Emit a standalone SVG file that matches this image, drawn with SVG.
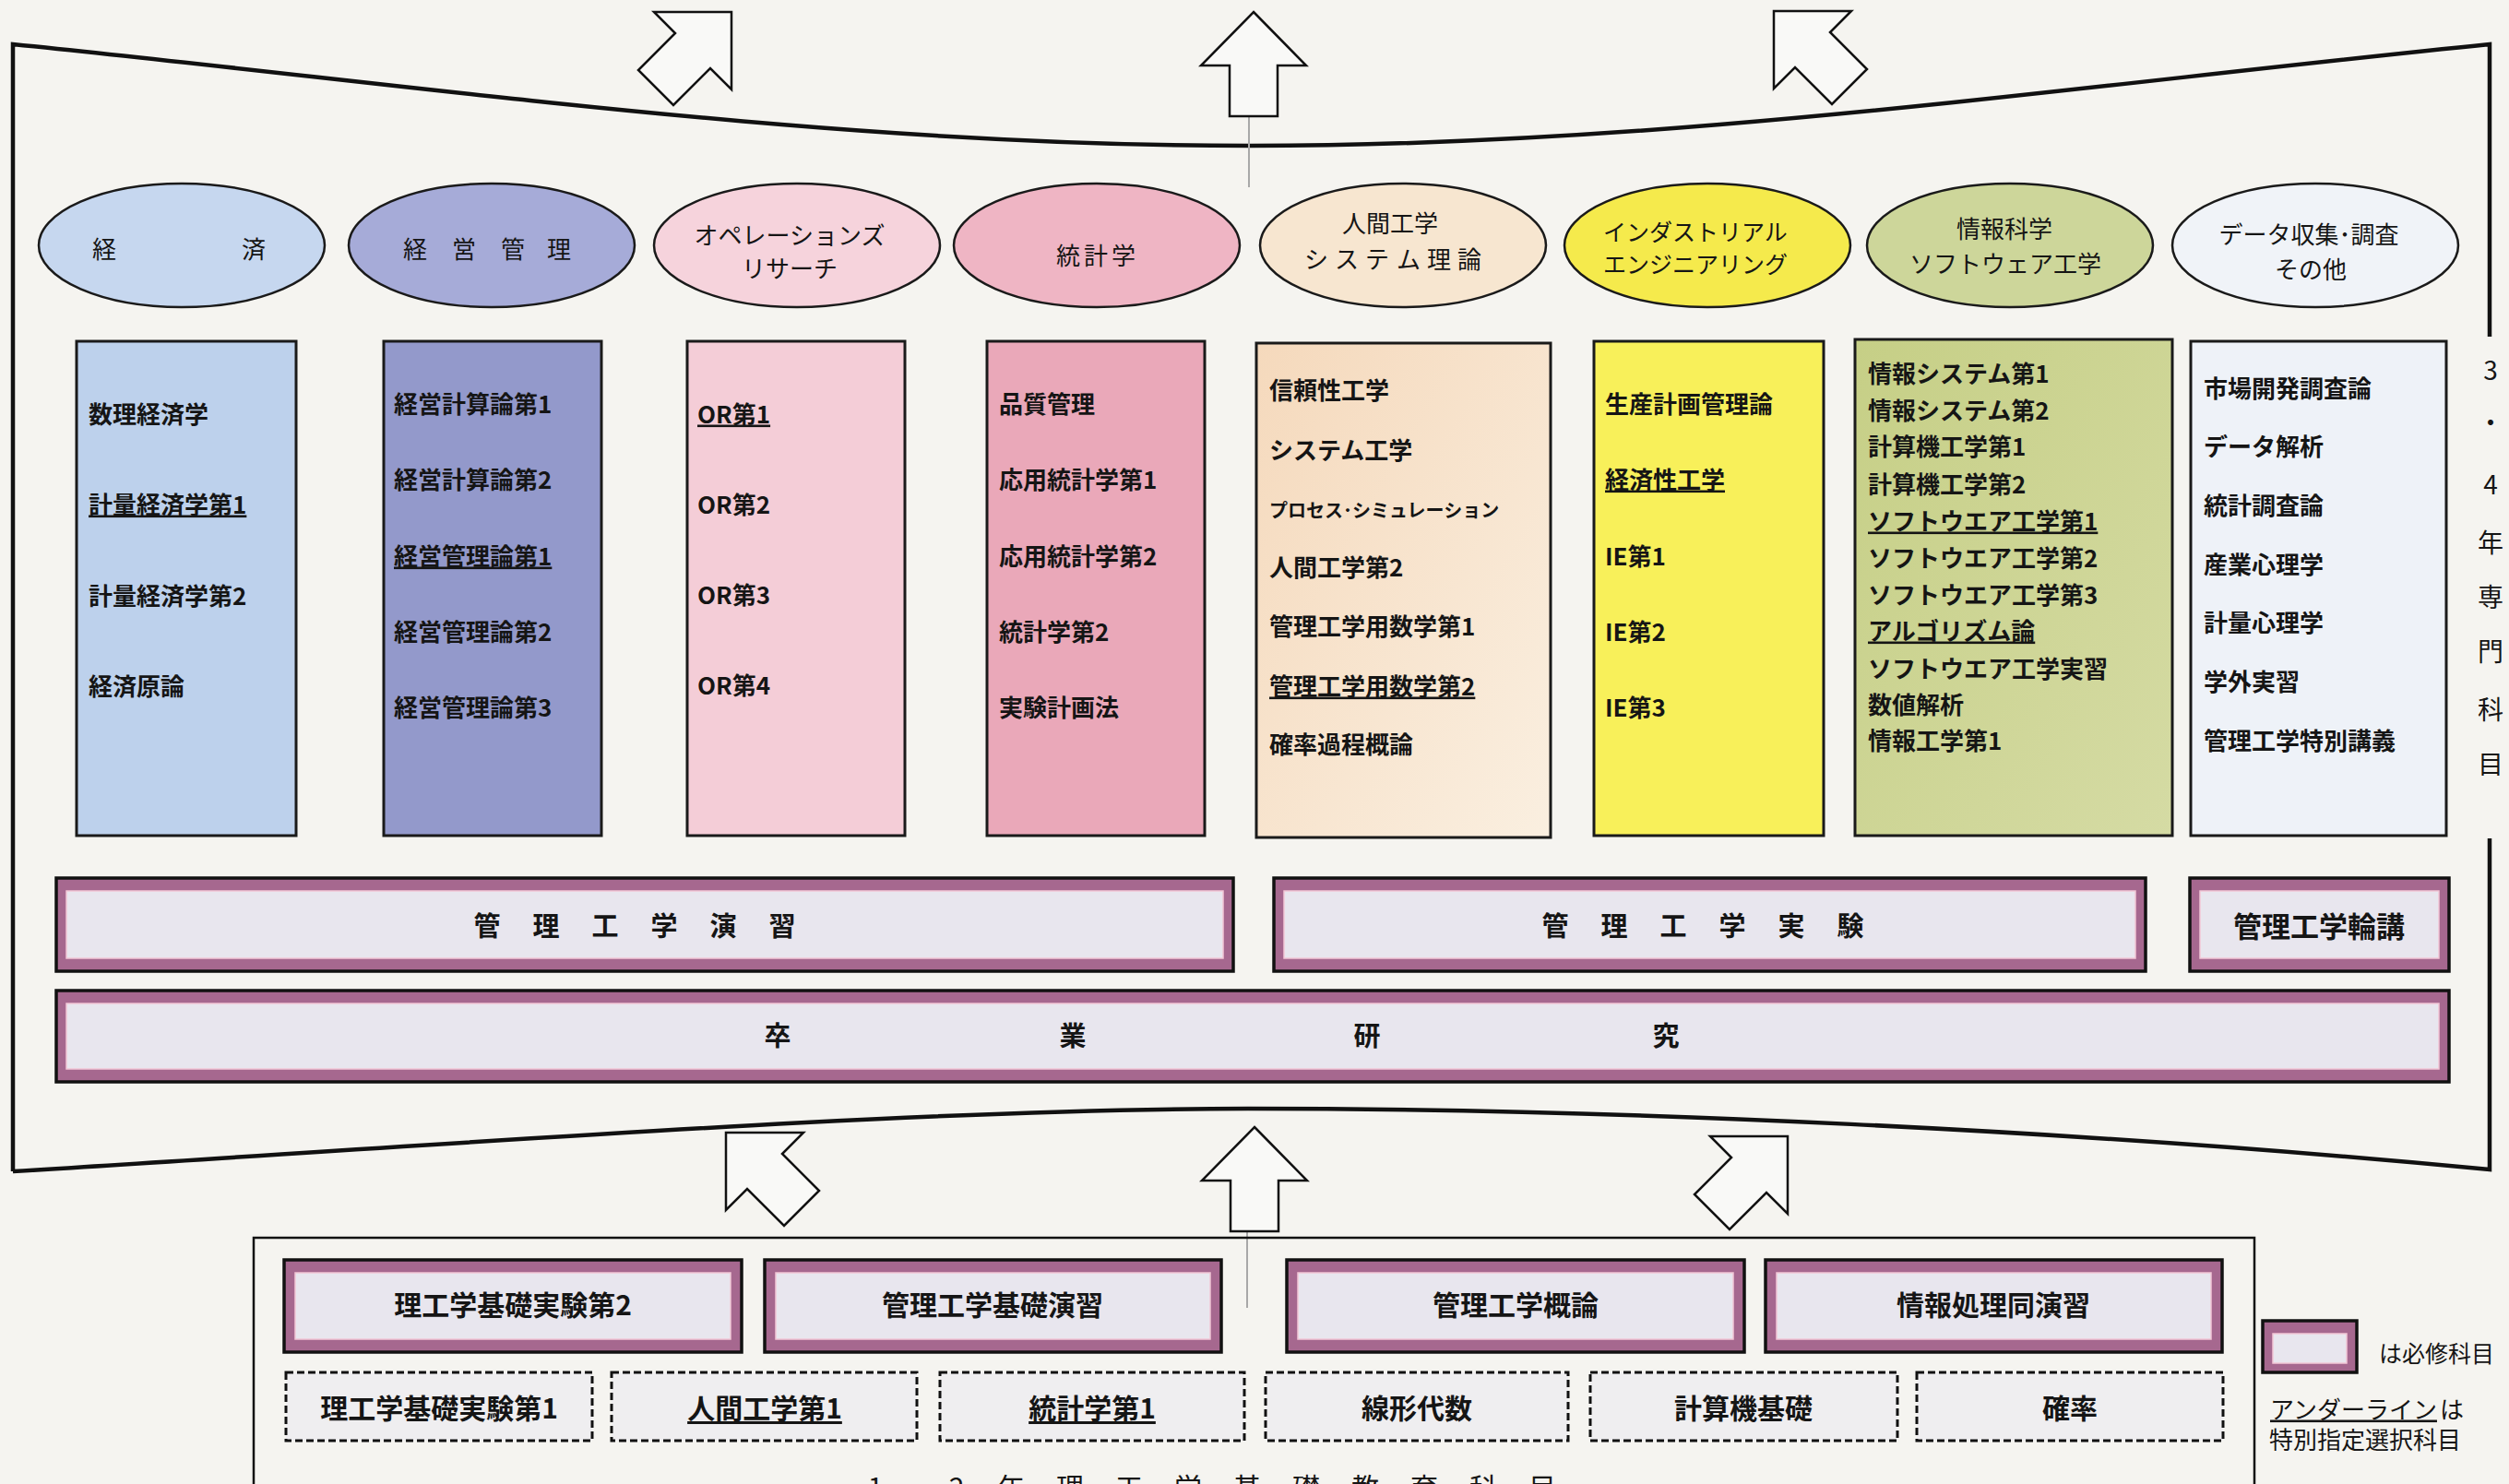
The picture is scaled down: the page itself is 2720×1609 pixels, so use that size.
<svg xmlns="http://www.w3.org/2000/svg" xmlns:xlink="http://www.w3.org/1999/xlink" width="2720" height="1609" viewBox="0 0 2720 1609">
<defs>
<style>
.t{font-family:"Noto Sans CJK JP","Noto Sans",sans-serif;fill:#151515}
.lab{font-size:26px;font-weight:400;text-anchor:middle;dominant-baseline:central}
.it{font-size:26px;font-weight:700;dominant-baseline:central}
.bt{font-size:29px;font-weight:700;text-anchor:middle;dominant-baseline:central}
.u{text-decoration:underline}
.ell{stroke:#1a1a1a;stroke-width:2.5}
.box{stroke:#1a1a1a;stroke-width:3}
.frame{fill:none;stroke:#111;stroke-width:4.5}
.barO{fill:#a6688f;stroke:#111;stroke-width:3.5}
.barI{fill:#e8e6ee;stroke:#f2c6d6;stroke-width:1.5}
.dash{fill:#efeef0;stroke:#111;stroke-width:3;stroke-dasharray:8 4}
.arrow{fill:#f9f9f7;stroke:#111;stroke-width:2.5;stroke-linejoin:miter}
.gut{stroke:#a8a8a8;stroke-width:2}
</style>
<linearGradient id="g5" x1="0" y1="0" x2="1" y2="1"><stop offset="0" stop-color="#f5d9bc"/><stop offset="1" stop-color="#faefe0"/></linearGradient>
<linearGradient id="g7" x1="0" y1="0" x2="1" y2="1"><stop offset="0" stop-color="#c6cf86"/><stop offset="1" stop-color="#d5dba4"/></linearGradient>
<polygon id="aNE" points="0,0 0,84 -23,61 -63,101 -101,63 -61,23 -84,0"/>
<polygon id="aNW" points="0,0 84,0 61,23 101,63 63,101 23,61 0,84"/>
<polygon id="aUp" points="0,0 57,58 26,58 26,113 -26,113 -26,58 -57,58"/>
</defs>
<rect width="2720" height="1609" fill="#f5f4f0"/>

<g id="frame">
<path class="frame" d="M14,1270 L14,48 C480,95 900,158 1356,158 C1812,158 2232,95 2699,48 L2699,365 M2699,909 L2699,1268 C2250,1225 1750,1202 1353,1202 C1000,1202 500,1240 14,1270"/>
<line class="gut" x1="1354" y1="107" x2="1354" y2="203"/>
<line class="gut" x1="1352" y1="1322" x2="1352" y2="1418"/>
<text class="t lab" x="2700 2700 2700 2700 2700 2700 2700 2700" y="400 457 524 587 646 705 768 827" style="font-size:28px">3・4年専門科目</text>
</g>

<g id="connectors">
<use class="arrow" xlink:href="#aNE" transform="translate(793,13)"/>
<use class="arrow" xlink:href="#aUp" transform="translate(1359,13)"/>
<use class="arrow" xlink:href="#aNW" transform="translate(1923,12)"/>
<use class="arrow" xlink:href="#aNW" transform="translate(787,1228)"/>
<use class="arrow" xlink:href="#aUp" transform="translate(1360,1222)"/>
<use class="arrow" xlink:href="#aNE" transform="translate(1938,1232)"/>
</g>

<g id="cat-keizai"><ellipse class="ell" cx="197" cy="266" rx="155" ry="67" fill="#c6d7ef"/><text class="t lab" x="113 275" y="268">経済</text></g>
<g id="cat-keiei"><ellipse class="ell" cx="533" cy="266" rx="155" ry="67" fill="#a6abd8"/><text class="t lab" x="450 503 556 606" y="268">経営管理</text></g>
<g id="cat-or"><ellipse class="ell" cx="864" cy="266" rx="155" ry="67" fill="#f6d3dc"/><text class="t lab" x="856" y="253">オペレーションズ</text><text class="t lab" x="856" y="289">リサーチ</text></g>
<g id="cat-toukei"><ellipse class="ell" cx="1189" cy="266" rx="155" ry="67" fill="#efb5c4"/><text class="t lab" x="1158 1188 1218" y="275">統計学</text></g>
<g id="cat-ningen"><ellipse class="ell" cx="1521" cy="266" rx="155" ry="67" fill="#f7e6d0"/><text class="t lab" x="1507" y="240">人間工学</text><text class="t lab" x="1427 1460 1493 1527 1560 1593" y="279">システム理論</text></g>
<g id="cat-ie"><ellipse class="ell" cx="1851" cy="266" rx="155" ry="67" fill="#f5ea4c"/><text class="t lab" x="1838" y="250" style="font-size:25px">インダストリアル</text><text class="t lab" x="1838" y="285" style="font-size:25px">エンジニアリング</text></g>
<g id="cat-joho"><ellipse class="ell" cx="2179" cy="266" rx="155" ry="67" fill="#cdd69a"/><text class="t lab" x="2173" y="246">情報科学</text><text class="t lab" x="2174" y="284">ソフトウェア工学</text></g>
<g id="cat-data"><ellipse class="ell" cx="2510" cy="266" rx="155" ry="67" fill="#f0f3f8"/><text class="t lab" x="2503" y="252">データ収集･調査</text><text class="t lab" x="2505" y="290">その他</text></g>

<g id="list-keizai"><rect class="box" x="83" y="370" width="238" height="536" fill="#bdd1ec"/>
<text class="t it" x="96" y="447">数理経済学</text>
<text class="t it u" x="96" y="545">計量経済学第1</text>
<text class="t it" x="96" y="644">計量経済学第2</text>
<text class="t it" x="96" y="742">経済原論</text></g>

<g id="list-keiei"><rect class="box" x="416" y="370" width="236" height="536" fill="#9399cb"/>
<text class="t it" x="427" y="436">経営計算論第1</text>
<text class="t it" x="427" y="518">経営計算論第2</text>
<text class="t it u" x="427" y="601">経営管理論第1</text>
<text class="t it" x="427" y="683">経営管理論第2</text>
<text class="t it" x="427" y="765">経営管理論第3</text></g>

<g id="list-or"><rect class="box" x="745" y="370" width="236" height="536" fill="#f4cdd7"/>
<text class="t it u" x="756" y="447">OR第1</text>
<text class="t it" x="756" y="545">OR第2</text>
<text class="t it" x="756" y="643">OR第3</text>
<text class="t it" x="756" y="741">OR第4</text></g>

<g id="list-toukei"><rect class="box" x="1070" y="370" width="236" height="536" fill="#eaa8b9"/>
<text class="t it" x="1083" y="436">品質管理</text>
<text class="t it" x="1083" y="518">応用統計学第1</text>
<text class="t it" x="1083" y="601">応用統計学第2</text>
<text class="t it" x="1083" y="683">統計学第2</text>
<text class="t it" x="1083" y="765">実験計画法</text></g>

<g id="list-ningen"><rect class="box" x="1362" y="372" width="319" height="536" fill="url(#g5)"/>
<text class="t it" x="1376" y="421">信頼性工学</text>
<text class="t it" x="1376" y="486">システム工学</text>
<text class="t it" x="1376" y="552" style="font-size:20px">プロセス･シミュレーション</text>
<text class="t it" x="1376" y="613">人間工学第2</text>
<text class="t it" x="1376" y="677">管理工学用数学第1</text>
<text class="t it u" x="1376" y="742">管理工学用数学第2</text>
<text class="t it" x="1376" y="805">確率過程概論</text></g>

<g id="list-ie"><rect class="box" x="1728" y="370" width="249" height="536" fill="#f8f05a"/>
<text class="t it" x="1740" y="436">生産計画管理論</text>
<text class="t it u" x="1740" y="518">経済性工学</text>
<text class="t it" x="1740" y="601">IE第1</text>
<text class="t it" x="1740" y="683">IE第2</text>
<text class="t it" x="1740" y="765">IE第3</text></g>

<g id="list-joho"><rect class="box" x="2011" y="368" width="344" height="538" fill="url(#g7)"/>
<text class="t it" x="2025" y="403">情報システム第1</text>
<text class="t it" x="2025" y="443">情報システム第2</text>
<text class="t it" x="2025" y="482">計算機工学第1</text>
<text class="t it" x="2025" y="523">計算機工学第2</text>
<text class="t it u" x="2025" y="563">ソフトウエア工学第1</text>
<text class="t it" x="2025" y="603">ソフトウエア工学第2</text>
<text class="t it" x="2025" y="643">ソフトウエア工学第3</text>
<text class="t it u" x="2025" y="682">アルゴリズム論</text>
<text class="t it" x="2025" y="723">ソフトウエア工学実習</text>
<text class="t it" x="2025" y="762">数値解析</text>
<text class="t it" x="2025" y="801">情報工学第1</text></g>

<g id="list-data"><rect class="box" x="2375" y="370" width="277" height="536" fill="#eef2f8"/>
<text class="t it" x="2389" y="419">市場開発調査論</text>
<text class="t it" x="2389" y="482">データ解析</text>
<text class="t it" x="2389" y="546">統計調査論</text>
<text class="t it" x="2389" y="610">産業心理学</text>
<text class="t it" x="2389" y="673">計量心理学</text>
<text class="t it" x="2389" y="737">学外実習</text>
<text class="t it" x="2389" y="801">管理工学特別講義</text></g>

<g id="bar-enshu"><rect class="barO" x="61" y="952" width="1276" height="101"/><rect class="barI" x="72" y="966" width="1254" height="73"/>
<text class="t bt" x="528 592 656 720 784 848" y="1002">管理工学演習</text></g>
<g id="bar-jikken"><rect class="barO" x="1381" y="952" width="945" height="101"/><rect class="barI" x="1392" y="966" width="923" height="73"/>
<text class="t bt" x="1686 1750 1814 1878 1942 2006" y="1002">管理工学実験</text></g>
<g id="bar-rinko"><rect class="barO" x="2374" y="952" width="281" height="101"/><rect class="barI" x="2385" y="966" width="259" height="73"/>
<text class="t bt" x="2514" y="1002" style="font-size:31px">管理工学輪講</text></g>
<g id="bar-sotsugyo"><rect class="barO" x="61" y="1074" width="2594" height="99"/><rect class="barI" x="72" y="1088" width="2572" height="71"/>
<text class="t bt" x="843 1163 1482 1806" y="1121">卒業研究</text></g>

<g id="basic-frame"><rect x="275" y="1342" width="2169" height="320" fill="none" stroke="#111" stroke-width="2.5"/>
<text class="t bt" x="949 993 1037 1096 1160 1224 1288 1352 1416 1480 1544 1608 1672" y="1611" style="font-size:30px;font-weight:400">1・2年理工学基礎教育科目</text></g>

<g id="req-riko2"><rect class="barO" x="308" y="1366" width="496" height="100"/><rect class="barI" x="320" y="1380" width="472" height="72"/><text class="t bt" x="556" y="1413" style="font-size:30px">理工学基礎実験第2</text></g>
<g id="req-kiso-enshu"><rect class="barO" x="829" y="1366" width="495" height="100"/><rect class="barI" x="841" y="1380" width="471" height="72"/><text class="t bt" x="1076" y="1413" style="font-size:30px">管理工学基礎演習</text></g>
<g id="req-gairon"><rect class="barO" x="1395" y="1366" width="496" height="100"/><rect class="barI" x="1407" y="1380" width="472" height="72"/><text class="t bt" x="1643" y="1413" style="font-size:30px">管理工学概論</text></g>
<g id="req-joho"><rect class="barO" x="1914" y="1366" width="495" height="100"/><rect class="barI" x="1926" y="1380" width="471" height="72"/><text class="t bt" x="2161" y="1413" style="font-size:30px">情報処理同演習</text></g>

<g id="opt-riko1"><rect class="dash" x="310" y="1488" width="332" height="74"/><text class="t bt" x="476" y="1525" style="font-size:30px">理工学基礎実験第1</text></g>
<g id="opt-ningen1"><rect class="dash" x="663" y="1488" width="331" height="74"/><text class="t bt u" x="829" y="1525" style="font-size:30px">人間工学第1</text></g>
<g id="opt-toukei1"><rect class="dash" x="1019" y="1488" width="330" height="74"/><text class="t bt u" x="1184" y="1525" style="font-size:30px">統計学第1</text></g>
<g id="opt-senkei"><rect class="dash" x="1372" y="1488" width="328" height="74"/><text class="t bt" x="1536" y="1525" style="font-size:30px">線形代数</text></g>
<g id="opt-keisanki"><rect class="dash" x="1724" y="1488" width="333" height="74"/><text class="t bt" x="1890" y="1525" style="font-size:30px">計算機基礎</text></g>
<g id="opt-kakuritsu"><rect class="dash" x="2078" y="1488" width="332" height="74"/><text class="t bt" x="2244" y="1525" style="font-size:30px">確率</text></g>

<g id="legend">
<rect class="barO" x="2453" y="1432" width="102" height="56"/><rect class="barI" x="2464" y="1446" width="80" height="32"/>
<text class="t" x="2579" y="1466" style="font-size:25px;dominant-baseline:central">は必修科目</text>
<text class="t u" x="2461" y="1526" style="font-size:26px;dominant-baseline:central">アンダーライン</text>
<text class="t" x="2645" y="1526" style="font-size:26px;dominant-baseline:central">は</text>
<text class="t" x="2460" y="1559" style="font-size:26px;dominant-baseline:central">特別指定選択科目</text>
</g>
</svg>
